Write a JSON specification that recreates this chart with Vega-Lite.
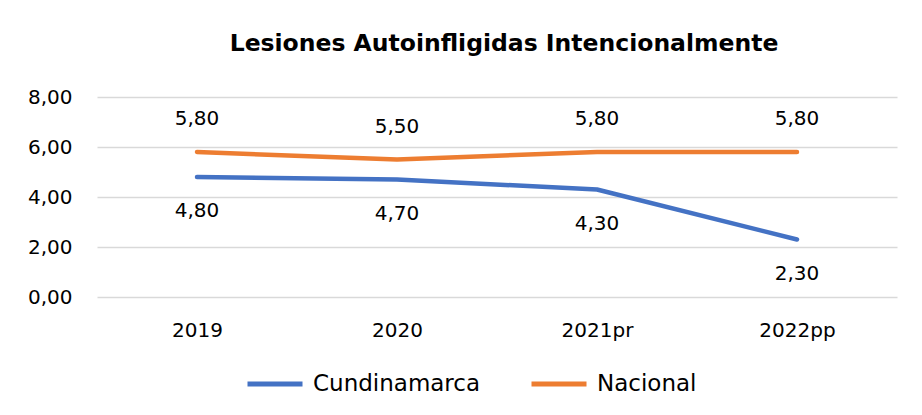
{
  "$schema": "https://vega.github.io/schema/vega-lite/v6.json",
  "width": 800,
  "height": 200,
  "autosize": {"type": "none"},
  "padding": {"left": 97, "top": 97, "right": 25, "bottom": 118},
  "background": "white",
  "title": {"text": "Lesiones Autoinfligidas Intencionalmente", "font": "DejaVu Sans", "fontSize": 23.5, "fontWeight": "bold", "color": "#000000", "anchor": "middle", "offset": 32, "dx": 7},
  "config": {
    "locale": {"number": {"decimal": ",", "thousands": ".", "grouping": [3], "currency": ["$", ""]}},
    "view": {"stroke": null},
    "font": "DejaVu Sans"
  },
  "data": {"values": [
    {"anio": "2019", "serie": "Cundinamarca", "valor": 4.8},
    {"anio": "2020", "serie": "Cundinamarca", "valor": 4.7},
    {"anio": "2021pr", "serie": "Cundinamarca", "valor": 4.3},
    {"anio": "2022pp", "serie": "Cundinamarca", "valor": 2.3},
    {"anio": "2019", "serie": "Nacional", "valor": 5.8},
    {"anio": "2020", "serie": "Nacional", "valor": 5.5},
    {"anio": "2021pr", "serie": "Nacional", "valor": 5.8},
    {"anio": "2022pp", "serie": "Nacional", "valor": 5.8}
  ]},
  "encoding": {
    "x": {"field": "anio", "type": "ordinal", "sort": ["2019", "2020", "2021pr", "2022pp"], "scale": {"type": "point", "padding": 0.5},
      "axis": {"title": null, "labelAngle": 0, "ticks": false, "domain": false, "labelFontSize": 20, "labelColor": "#000000", "labelPadding": 23, "labelFont": "DejaVu Sans"}},
    "y": {"field": "valor", "type": "quantitative", "scale": {"domain": [0, 8]},
      "axis": {"title": null, "values": [0, 2, 4, 6, 8], "format": ".2f", "ticks": false, "domain": false, "gridColor": "#d9d9d9", "gridWidth": 1.5, "labelFontSize": 20, "labelColor": "#000000", "labelPadding": 25, "labelFont": "DejaVu Sans"}}
  },
  "layer": [
    {
      "mark": {"type": "line", "strokeWidth": 4.5, "strokeCap": "round", "strokeJoin": "round"},
      "encoding": {
        "color": {"field": "serie", "type": "nominal", "scale": {"domain": ["Cundinamarca", "Nacional"], "range": ["#4472C4", "#ED7D31"]},
          "legend": {"title": null, "orient": "none", "legendX": 148, "legendY": 257, "direction": "horizontal", "symbolType": "stroke", "symbolSize": 3025, "symbolStrokeWidth": 5, "labelFontSize": 23, "labelLimit": 400, "labelColor": "#000000", "labelFont": "DejaVu Sans", "columnPadding": 40, "labelOffset": 8}}
      }
    },
    {
      "transform": [{"filter": "datum.serie == 'Nacional'"}],
      "mark": {"type": "text", "dy": -33, "fontSize": 20, "color": "#000000"},
      "encoding": {"text": {"field": "valor", "type": "quantitative", "format": ".2f"}}
    },
    {
      "transform": [{"filter": "datum.serie == 'Cundinamarca'"}],
      "mark": {"type": "text", "dy": 34, "fontSize": 20, "color": "#000000"},
      "encoding": {"text": {"field": "valor", "type": "quantitative", "format": ".2f"}}
    }
  ]
}
